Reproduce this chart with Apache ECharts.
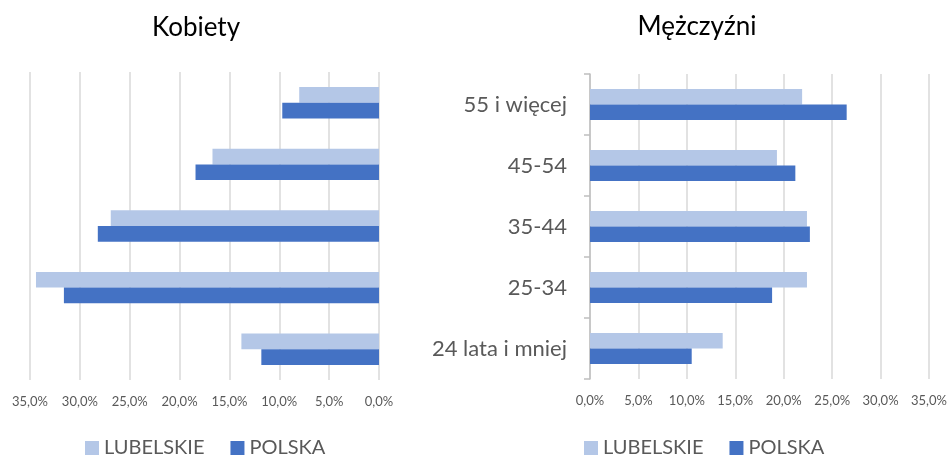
<!DOCTYPE html>
<html>
<head>
<meta charset="utf-8">
<script src="https://cdn.jsdelivr.net/npm/echarts@6/dist/echarts.min.js"></script>
<style>
html, body { margin: 0; padding: 0; background: #fff; }
#chart { width: 950px; height: 457px; }
</style>
</head>
<body>
<div id="chart"></div>
<script>
// kategorie od góry do dołu
var kategorie = ['55 i więcej', '45-54', '35-44', '25-34', '24 lata i mniej'];
var kobietyLubelskie = [8.0, 16.7, 26.9, 34.4, 13.8];
var kobietyPolska = [9.7, 18.4, 28.2, 31.6, 11.8];
var mezczyzniLubelskie = [21.9, 19.3, 22.4, 22.4, 13.7];
var mezczyzniPolska = [26.5, 21.2, 22.7, 18.8, 10.5];
var nazwySerii = ['LUBELSKIE', 'POLSKA'];
var kolory = ['#B4C7E7', '#4472C4'];

var fontName = 'Lato, "Open Sans", sans-serif';

function fmt(v) {
	return v.toFixed(1).replace('.', ',') + '%';
}

var chart = echarts.init(document.getElementById('chart'));

function xAxisDef(idx, inverse) {
	return {
		type : 'value',
		gridIndex : idx,
		min : 0,
		max : 35,
		interval : 5,
		inverse : inverse,
		axisLine : { show : false },
		axisTick : { show : false },
		splitLine : { lineStyle : { color : '#d9d9d9', width : 1.5 } },
		axisLabel : {
			formatter : fmt,
			color : '#595959',
			fontSize : 13,
			fontFamily : fontName,
			margin : 15
		}
	};
}

function legendDef(left) {
	return {
		data : nazwySerii,
		left : left,
		top : 433,
		itemWidth : 14,
		itemHeight : 14,
		itemGap : 26,
		icon : 'rect',
		textStyle : { fontSize : 20, color : '#595959', fontFamily : fontName }
	};
}

function barSeries(name, data, idx, color) {
	return {
		name : name,
		type : 'bar',
		xAxisIndex : idx,
		yAxisIndex : idx,
		data : data,
		barGap : '0%',
		barCategoryGap : '49%',
		itemStyle : { color : color },
		emphasis : { disabled : true }
	};
}

var tytulStyl = { fontSize : 26, fontWeight : 'normal', color : '#000000', fontFamily : fontName };

var option = {
	animation : false,
	backgroundColor : '#ffffff',
	textStyle : { fontFamily : fontName },
	title : [{
		text : 'Kobiety',
		left : 191,
		top : 10,
		textAlign : 'center',
		textStyle : tytulStyl
	}, {
		text : 'Mężczyźni',
		left : 692,
		top : 9,
		textAlign : 'center',
		textStyle : tytulStyl
	}],
	legend : [legendDef(80), legendDef(579)],
	grid : [{
		left : 30,
		right : 571,
		top : 72,
		bottom : 77
	}, {
		left : 590,
		right : 20,
		top : 74,
		bottom : 78
	}],
	xAxis : [xAxisDef(0, true), xAxisDef(1, false)],
	yAxis : [{
		type : 'category',
		gridIndex : 0,
		data : kategorie,
		inverse : true,
		axisLine : { show : false },
		axisTick : { show : false },
		axisLabel : { show : false }
	}, {
		type : 'category',
		gridIndex : 1,
		data : kategorie,
		inverse : true,
		axisLine : { lineStyle : { color : '#bfbfbf', width : 1.5 } },
		axisTick : { show : true, length : 6, lineStyle : { color : '#bfbfbf', width : 1.5 } },
		axisLabel : {
			color : '#595959',
			fontSize : 22,
			fontFamily : fontName,
			margin : 23
		}
	}],
	series : [
		barSeries(nazwySerii[0], kobietyLubelskie, 0, kolory[0]),
		barSeries(nazwySerii[1], kobietyPolska, 0, kolory[1]),
		barSeries(nazwySerii[0], mezczyzniLubelskie, 1, kolory[0]),
		barSeries(nazwySerii[1], mezczyzniPolska, 1, kolory[1])
	]
};

chart.setOption(option);
</script>
</body>
</html>
